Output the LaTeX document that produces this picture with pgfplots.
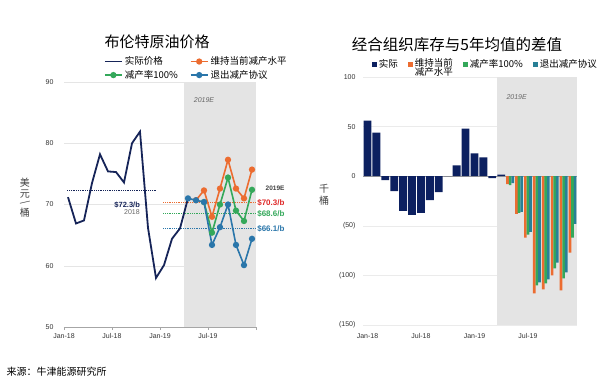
\documentclass[border=0pt]{standalone}
\usepackage{pgfplots}
\pgfplotsset{compat=1.18}
\usepackage{fontspec}
\setmainfont{Liberation Sans}
\newfontfamily\cjk{Noto Sans CJK SC}
\definecolor{navyline}{RGB}{22,36,88}
\definecolor{navybar}{RGB}{12,32,96}
\definecolor{oran}{RGB}{236,108,48}
\definecolor{gree}{RGB}{52,168,90}
\definecolor{blu}{RGB}{42,118,170}
\definecolor{tealb}{RGB}{40,128,150}
\definecolor{shade}{RGB}{228,228,228}
\definecolor{redl}{RGB}{222,40,40}
\begin{document}
\begin{tikzpicture}
\path[use as bounding box] (0pt,0pt) rectangle (600pt,381pt);
% titles and texts
\node[font=\cjk\fontsize{15}{18}\selectfont] at (157pt,339pt) {布伦特原油价格};
\node[font=\cjk\fontsize{15.5}{18}\selectfont] at (457pt,336pt) {经合组织库存与5年均值的差值};
\node[anchor=west, font=\cjk\fontsize{10}{12}\selectfont] at (3pt,9pt) {来源：牛津能源研究所};
\node[font=\cjk\fontsize{10}{11}\selectfont, text=black!75, align=center, inner sep=0pt] at (25pt,183pt) {\shortstack{美\\[-1pt]元\\[-3pt]\rotatebox{-60}{/}\\[-1pt]桶}};
\node[font=\cjk\fontsize{10}{11}\selectfont, text=black!75, align=center, inner sep=0pt] at (324pt,186pt) {\shortstack{千\\[0pt]桶}};

% ---------------- left chart
\begin{axis}[
  at={(64pt,54pt)}, anchor=south west, scale only axis, width=192pt, height=245pt,
  xmin=0, xmax=24, ymin=50, ymax=90,
  xtick={0,6,12,18,24}, xticklabels={Jan-18,Jul-18,Jan-19,Jul-19,{}},
  ytick={50,60,70,80,90},
  ymajorgrids, grid style={black!10},
  axis x line*=bottom, axis y line*=left,
  x axis line style={-,black!35}, y axis line style={-,draw=none},
  xtick style={black!35}, ytick style={draw=none},
  tick align=outside, major tick length=3pt,
  tick label style={font=\fontsize{7}{8}\selectfont, text=black!80},
  yticklabel style={xshift=-4pt},
  /pgf/number format/assume math mode=true,
  clip=false,
  legend columns=2,
  legend cell align=left,
  legend style={at={(0.207,1.112)}, anchor=north west, draw=none, fill=none,
    font=\cjk\fontsize{9.5}{11}\selectfont, inner sep=0pt,
    /tikz/every even column/.append style={column sep=10pt}},
]
\addplot[fill=shade, draw=none, forget plot] coordinates {(15,50)(24,50)(24,90)(15,90)} -- cycle;
\addplot[navyline, densely dotted, line width=0.8pt, forget plot] coordinates {(0.4,72.3)(11.5,72.3)};
\addplot[oran, densely dotted, line width=0.8pt, forget plot] coordinates {(12.4,70.3)(24,70.3)};
\addplot[gree, densely dotted, line width=0.8pt, forget plot] coordinates {(12.4,68.6)(24,68.6)};
\addplot[blu, densely dotted, line width=0.8pt, forget plot] coordinates {(12.4,66.1)(24,66.1)};
\addplot[navyline, line width=1.8pt, mark=none] coordinates {
(0.5,71.2)(1.5,66.9)(2.5,67.4)(3.5,73.5)(4.5,78.2)(5.5,75.4)(6.5,75.3)(7.5,73.6)
(8.5,80.0)(9.5,81.9)(10.5,66.2)(11.5,58.0)(12.5,60.1)(13.5,64.4)(14.5,66.1)(15.5,71.0)};
\addlegendentry{实际价格}
\addplot[oran, line width=1.6pt, mark=*, mark size=2.3pt] coordinates {
(16.5,70.7)(17.5,72.3)(18.5,68.0)(19.5,72.6)(20.5,77.3)(21.5,72.6)(22.5,71.0)(23.5,75.7)};
\addlegendentry{维持当前减产水平}
\addplot[gree, line width=1.6pt, mark=*, mark size=2.3pt] coordinates {
(17.5,70.4)(18.5,65.4)(19.5,70.0)(20.5,74.4)(21.5,69.0)(22.5,67.3)(23.5,72.4)};
\addlegendentry{减产率100\%}
\addplot[blu, line width=1.6pt, mark=*, mark size=2.3pt] coordinates {
(15.5,71.0)(16.5,70.7)(17.5,70.4)(18.5,63.4)(19.5,66.3)(20.5,70.0)(21.5,63.4)(22.5,60.1)(23.5,64.4)};
\addlegendentry{退出减产协议}
\node[font=\bfseries\fontsize{7.5}{9}\selectfont, text=navyline] at (axis cs:7.9,70.0) {\$72.3/b};
\node[font=\fontsize{7}{8}\selectfont, text=black!60] at (axis cs:8.5,68.8) {2018};
\node[anchor=west, font=\itshape\fontsize{7}{8}\selectfont, text=black!60] at (axis cs:15.8,87.0) {2019E};
\node[anchor=east, font=\bfseries\fontsize{6.5}{8}\selectfont, text=black!75] at (axis cs:28.0,72.7) {2019E};
\node[anchor=east, font=\bfseries\fontsize{8}{9}\selectfont, text=redl] at (axis cs:28.0,70.3) {\$70.3/b};
\node[anchor=east, font=\bfseries\fontsize{8}{9}\selectfont, text=gree] at (axis cs:28.0,68.5) {\$68.6/b};
\node[anchor=east, font=\bfseries\fontsize{8}{9}\selectfont, text=blu] at (axis cs:28.0,66.0) {\$66.1/b};
\end{axis}

% ---------------- right chart
\begin{axis}[
  at={(363pt,56pt)}, anchor=south west, scale only axis, width=214pt, height=248pt,
  xmin=-0.5, xmax=23.5, ymin=-150, ymax=100,
  xtick={0,6,12,18}, xticklabels={Jan-18,Jul-18,Jan-19,Jul-19},
  ytick={-150,-100,-50,0,50,100}, yticklabels={(150),(100),(50),0,50,100},
  ymajorgrids, grid style={black!8},
  axis line style={draw=none}, tick style={draw=none},
  tick label style={font=\fontsize{7}{8}\selectfont, text=black!80},
  xticklabel style={yshift=-5pt},
  yticklabel style={xshift=-4pt},
  clip=false,
  legend columns=4,
  legend cell align=left,
  legend style={at={(0.04,1.08)}, anchor=north west, draw=none, fill=none,
    font=\cjk\fontsize{9.5}{10}\selectfont, inner sep=0pt,
    /tikz/every even column/.append style={column sep=8pt}},
  legend image code/.code={\path[#1] (0pt,-2.5pt) rectangle (5pt,2.5pt);},
]
\addplot[fill=shade, draw=none, forget plot] coordinates {(14.5,-150)(23.5,-150)(23.5,100)(14.5,100)} -- cycle;
\addplot[black!40, line width=0.6pt, forget plot] coordinates {(-0.5,0)(23.5,0)};
\addplot[ybar, bar width=0.88, bar shift=0pt, fill=navybar, draw=none] coordinates {
(0,56)(1,44)(2,-4)(3,-15)(4,-35)(5,-39)(6,-37)(7,-24)(8,-16)(9,0)(10,11)(11,48)(12,23)(13,19)(14,-2)(15,1.5)};
\addlegendentry{实际}
\addplot[ybar, bar width=0.3, bar shift=-0.29, fill=oran, draw=none] coordinates {
(16,-8)(17,-38)(18,-62)(19,-118)(20,-114)(21,-100)(22,-115)(23,-77)};
\addlegendentry{\smash{\raisebox{-0.38em}{\begin{tabular}[t]{@{}l@{}}维持当前\\[-2pt]减产水平\end{tabular}}}}
\addplot[ybar, bar width=0.3, bar shift=0, fill=gree, draw=none] coordinates {
(16,-9)(17,-37)(18,-59)(19,-110)(20,-108)(21,-93)(22,-103)(23,-62)};
\addlegendentry{减产率100\%}
\addplot[ybar, bar width=0.3, bar shift=0.29, fill=tealb, draw=none] coordinates {
(16,-7)(17,-36)(18,-56)(19,-107)(20,-104)(21,-87)(22,-97)(23,-48)};
\addlegendentry{退出减产协议}
\node[anchor=west, font=\itshape\fontsize{7}{8}\selectfont, text=black!60] at (axis cs:15.2,80) {2019E};
\end{axis}
\end{tikzpicture}
\end{document}
